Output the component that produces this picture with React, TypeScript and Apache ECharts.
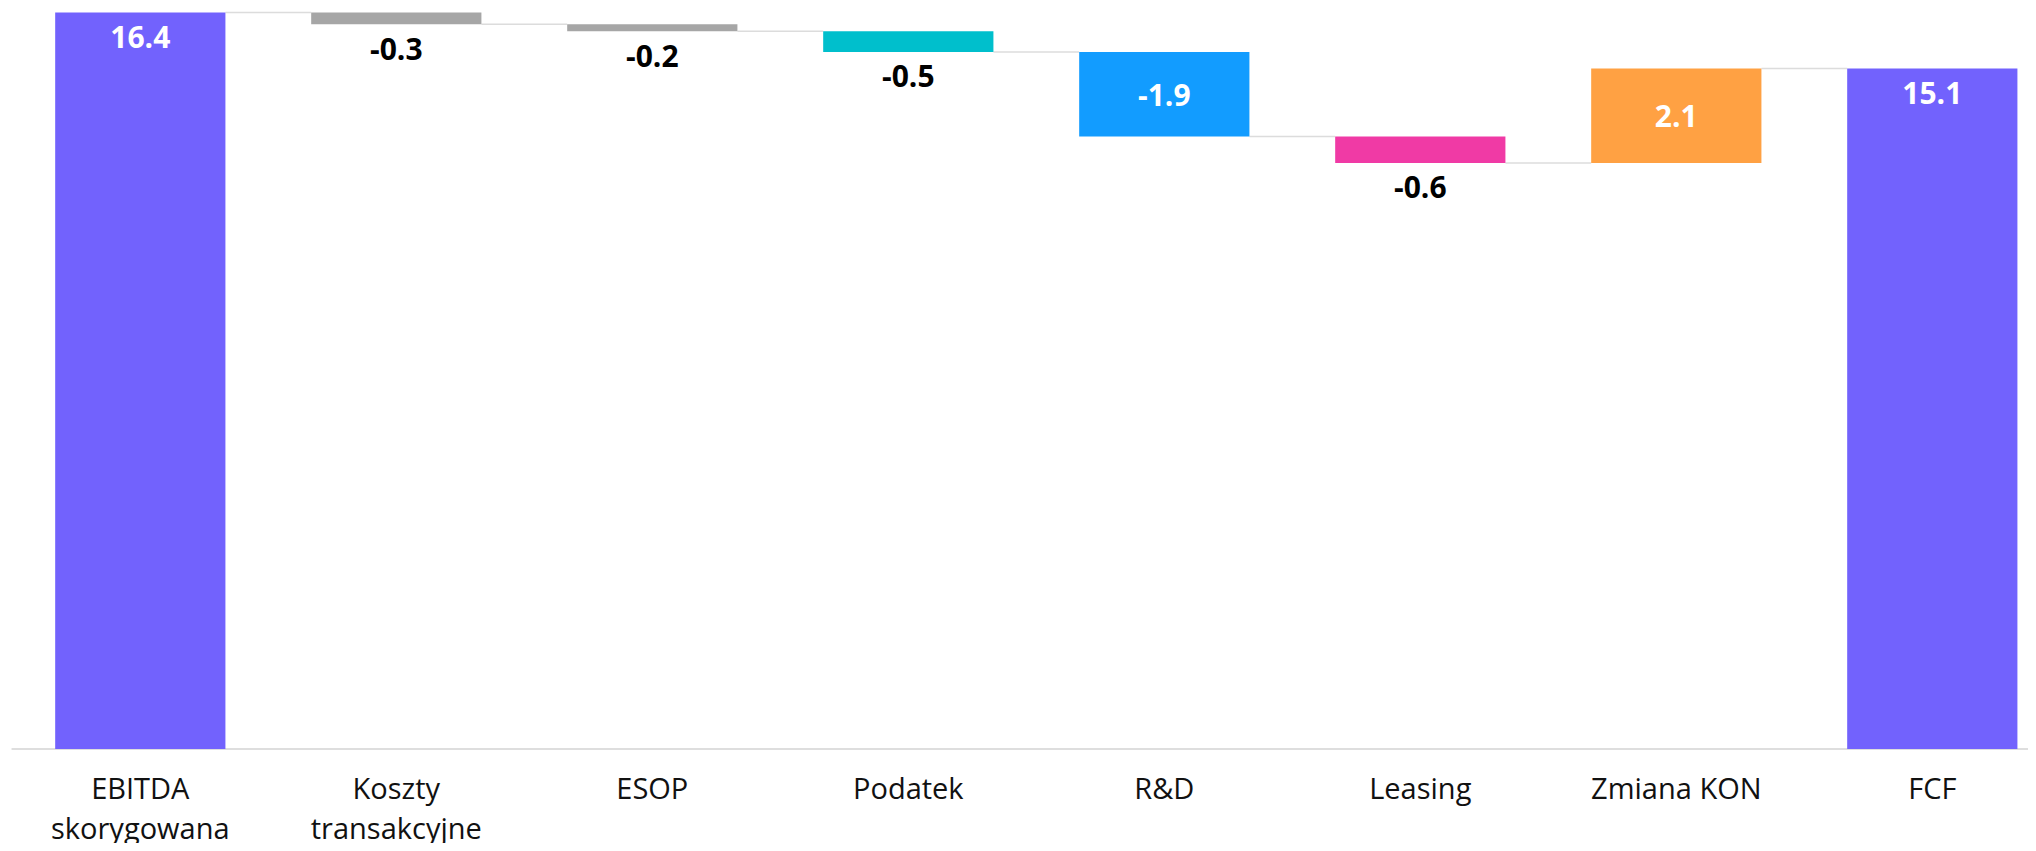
import React, { useEffect, useRef } from "react";
import * as echarts from "echarts";

// Bridge from adjusted EBITDA to free cash flow (PLN m)
const categories = [
  "EBITDA\nskorygowana",
  "Koszty\ntransakcyjne",
  "ESOP",
  "Podatek",
  "R&D",
  "Leasing",
  "Zmiana KON",
  "FCF",
];
// first and last entries are totals, the rest are changes
const stepValues = [16.39, -0.26, -0.16, -0.46, -1.88, -0.59, 2.1, 15.14];
const isTotal = [true, false, false, false, false, false, false, true];
const barColors = [
  "#7262FD",
  "#A6A6A6",
  "#A6A6A6",
  "#00BFCC",
  "#129CFF",
  "#F03AA5",
  "#FFA143",
  "#7262FD",
];

const FONT = "'Open Sans', 'Noto Sans', sans-serif";
const GAP = 0.335;

function buildOption() {
  const base: number[] = [];
  const heights: any[] = [];
  const levels: number[] = [];
  let running = 0;
  stepValues.forEach((v, i) => {
    let lo: number;
    let hi: number;
    if (isTotal[i]) {
      lo = 0;
      hi = v;
      running = v;
    } else {
      const next = running + v;
      lo = Math.min(running, next);
      hi = Math.max(running, next);
      running = next;
    }
    levels.push(running);
    base.push(lo);
    const big = isTotal[i] || Math.abs(v) >= 1;
    heights.push({
      value: hi - lo,
      itemStyle: { color: barColors[i] },
      label: isTotal[i]
        ? { position: "insideTop", distance: 9, color: "#ffffff" }
        : big
        ? { position: "inside", color: "#ffffff" }
        : { position: "bottom", distance: 9, color: "#000000" },
    });
  });

  // connector segments between consecutive bars at the running level
  const connectors = levels.slice(0, -1).map((lv, i) => [i, lv]);

  return {
    animation: false,
    grid: { left: 4.3, right: 17.7, top: 4, bottom: 102, containLabel: false },
    xAxis: {
      type: "category",
      data: categories,
      boundaryGap: true,
      axisTick: { show: false },
      axisLine: { show: true, lineStyle: { color: "#dedede", width: 2 } },
      axisLabel: {
        interval: 0,
        margin: 19,
        color: "#111111",
        fontFamily: FONT,
        fontSize: 29,
        lineHeight: 39.5,
      },
    },
    yAxis: {
      type: "value",
      min: 0,
      max: 16.4,
      show: false,
      splitLine: { show: false },
    },
    series: [
      {
        type: "bar",
        stack: "wf",
        barCategoryGap: GAP * 100 + "%",
        itemStyle: { color: "transparent" },
        emphasis: { disabled: true },
        data: base,
        silent: true,
      },
      {
        type: "bar",
        stack: "wf",
        barCategoryGap: GAP * 100 + "%",
        data: heights,
        label: {
          show: true,
          fontFamily: FONT,
          fontSize: 30,
          fontWeight: "bold",
          formatter: (p: any) => stepValues[p.dataIndex].toFixed(1),
        },
      },
      {
        type: "custom",
        silent: true,
        data: connectors,
        renderItem: (params: any, api: any) => {
          const idx = api.value(0);
          const lv = api.value(1);
          const pt = api.coord([idx, lv]);
          const band = api.size([1, 0])[0];
          const half = (band * (1 - GAP)) / 2;
          return {
            type: "line",
            shape: {
              x1: pt[0] + half,
              y1: pt[1],
              x2: pt[0] + band - half,
              y2: pt[1],
            },
            style: { stroke: "#dcdcdc", lineWidth: 1.5 },
          };
        },
      },
    ],
  };
}

export default function App() {
  const ref = useRef<HTMLDivElement>(null);
  useEffect(() => {
    if (!ref.current) return;
    const chart = echarts.init(ref.current, null, { renderer: "svg" });
    chart.setOption(buildOption() as any);
    return () => chart.dispose();
  }, []);
  return (
    <div style={{ width: 2028, height: 843, marginBottom: -8, overflow: "hidden" }}>
      <div ref={ref} style={{ width: 2070, height: 843 }} />
    </div>
  );
}
